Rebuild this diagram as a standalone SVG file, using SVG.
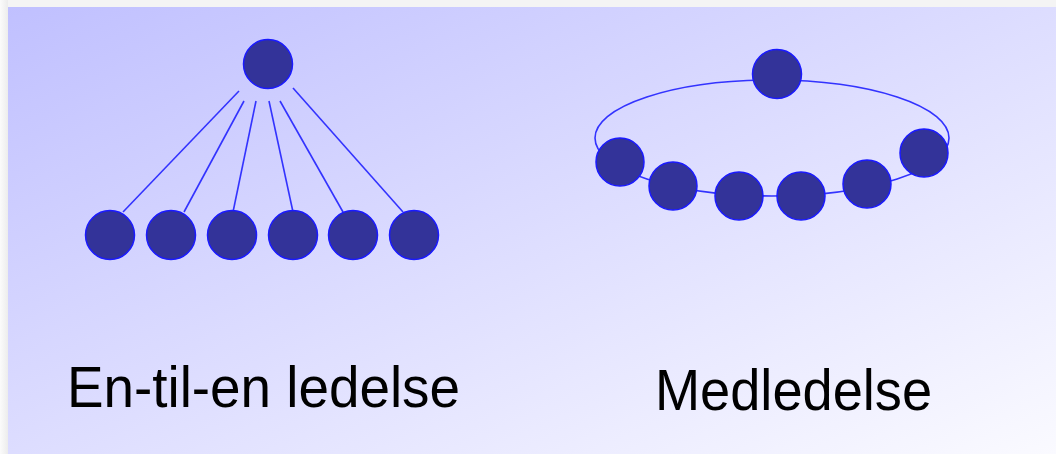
<svg xmlns="http://www.w3.org/2000/svg" width="1056" height="454" viewBox="0 0 1056 454">
  <defs>
    <linearGradient id="bg" x1="0" y1="0" x2="1" y2="1">
      <stop offset="0" stop-color="#c0c0ff"/>
      <stop offset="1" stop-color="#fafaff"/>
    </linearGradient>
    <linearGradient id="edgeL" x1="0" y1="0" x2="1" y2="0">
      <stop offset="0" stop-color="#fbfbfb"/>
      <stop offset="1" stop-color="#ececec"/>
    </linearGradient>
    <style>
      .node { fill: #333399; stroke: #1a1aff; stroke-width: 1.5; }
      .link { stroke: #3333ff; stroke-width: 1.6; fill: none; }
      .label { font-family: "Liberation Sans", Arial, sans-serif; font-size: 57px; fill: #000000; }
    </style>
  </defs>
  <rect x="0" y="0" width="1056" height="454" fill="#f4f4f4"/>
  <rect x="0" y="0" width="8" height="454" fill="url(#edgeL)"/>
  <rect x="8" y="7" width="1048" height="447" fill="url(#bg)"/>

  <g id="connectors">
    <line class="link" x1="239" y1="91" x2="123" y2="212"/>
    <line class="link" x1="244" y1="101" x2="184" y2="212"/>
    <line class="link" x1="256" y1="101" x2="233" y2="212"/>
    <line class="link" x1="269" y1="101" x2="293" y2="212"/>
    <line class="link" x1="280" y1="101" x2="343" y2="212"/>
    <line class="link" x1="293" y1="88" x2="403" y2="212"/>
    <ellipse class="link" cx="772" cy="138" rx="177" ry="58"/>
  </g>

  <g id="leader-left"><circle class="node" cx="268" cy="64" r="24.5"/></g>
  <g id="left-1"><circle class="node" cx="110" cy="235" r="24.5"/></g>
  <g id="left-2"><circle class="node" cx="171" cy="235" r="24.5"/></g>
  <g id="left-3"><circle class="node" cx="232" cy="235" r="24.5"/></g>
  <g id="left-4"><circle class="node" cx="293" cy="235" r="24.5"/></g>
  <g id="left-5"><circle class="node" cx="353" cy="235" r="24.5"/></g>
  <g id="left-6"><circle class="node" cx="414" cy="235" r="24.5"/></g>

  <g id="ring-top"><circle class="node" cx="777" cy="74" r="24.5"/></g>
  <g id="ring-1"><circle class="node" cx="620" cy="162" r="24"/></g>
  <g id="ring-2"><circle class="node" cx="673" cy="186" r="24"/></g>
  <g id="ring-3"><circle class="node" cx="739" cy="196" r="24"/></g>
  <g id="ring-4"><circle class="node" cx="801" cy="196" r="24"/></g>
  <g id="ring-5"><circle class="node" cx="867" cy="184" r="24"/></g>
  <g id="ring-6"><circle class="node" cx="924" cy="153" r="24"/></g>

  <g id="label-left"><text class="label" x="67" y="407" textLength="393" lengthAdjust="spacingAndGlyphs">En-til-en ledelse</text></g>
  <g id="label-right"><text class="label" x="655" y="410" textLength="277" lengthAdjust="spacingAndGlyphs">Medledelse</text></g>
</svg>
